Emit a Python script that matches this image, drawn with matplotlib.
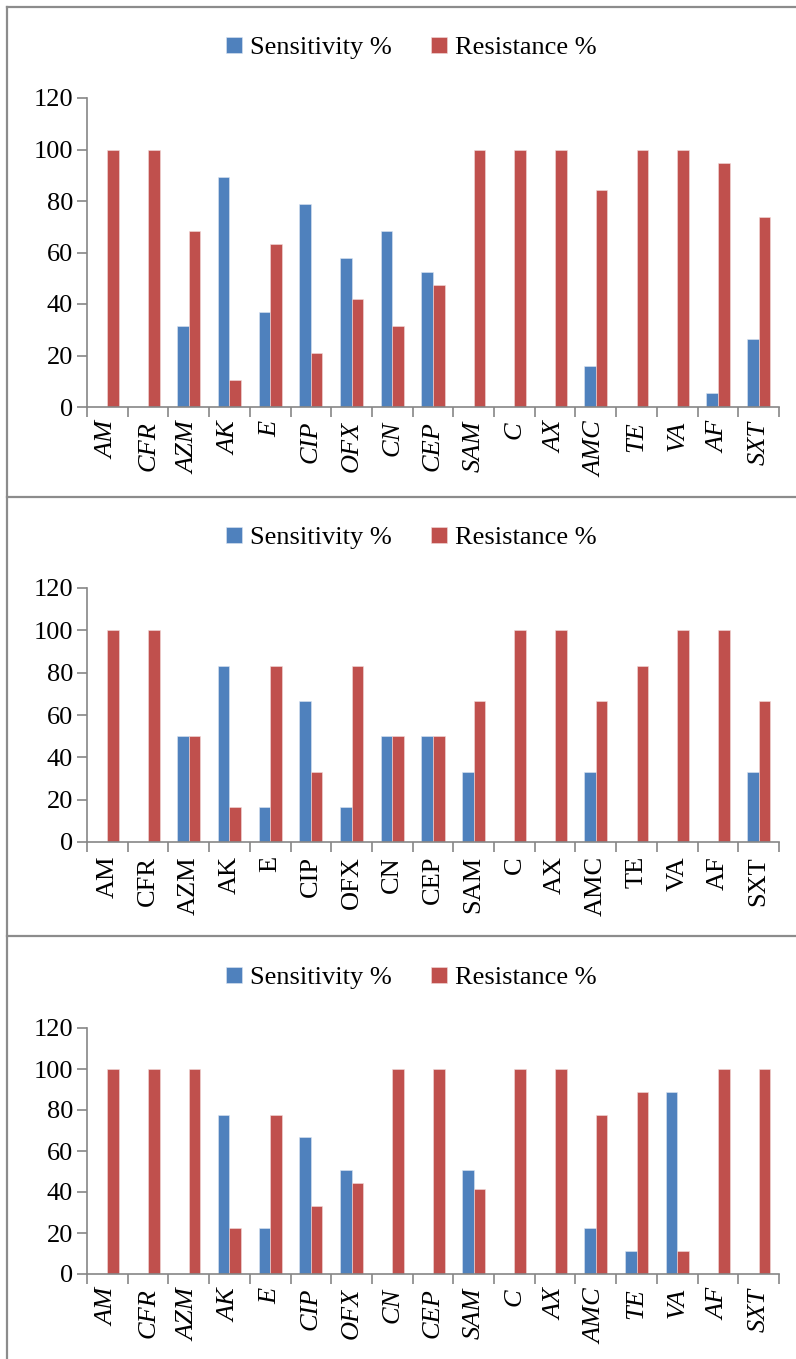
import numpy as np
import matplotlib.pyplot as plt
from matplotlib.lines import Line2D

# === données ===
antibiotiques = ['AM', 'CFR', 'AZM', 'AK', 'E', 'CIP', 'OFX', 'CN', 'CEP',
                 'SAM', 'C', 'AX', 'AMC', 'TE', 'VA', 'AF', 'SXT']

sens_1 = [0, 0, 31.6, 89.5, 36.8, 78.9, 57.9, 68.4, 52.6, 0, 0, 0, 15.8, 0, 0, 5.3, 26.3]
res_1 = [100, 100, 68.4, 10.5, 63.2, 21.1, 42.1, 31.6, 47.4, 100, 100, 100, 84.2, 100, 100, 94.7, 73.7]

sens_2 = [0, 0, 50, 83.3, 16.7, 66.7, 16.7, 50, 50, 33.3, 0, 0, 33.3, 0, 0, 0, 33.3]
res_2 = [100, 100, 50, 16.7, 83.3, 33.3, 83.3, 50, 50, 66.7, 100, 100, 66.7, 83.3, 100, 100, 66.7]

sens_3 = [0, 0, 0, 77.8, 22.2, 66.7, 50.5, 0, 0, 50.5, 0, 0, 22.2, 11.1, 88.9, 0, 0]
res_3 = [100, 100, 100, 22.2, 77.8, 33.3, 44.4, 100, 100, 41.6, 100, 100, 77.8, 88.9, 11.1, 100, 100]

panneaux = [(sens_1, res_1, 'italic'), (sens_2, res_2, 'normal'), (sens_3, res_3, 'italic')]

# === mise en page (pixels) ===
W, H = 796, 1359
BLEU = '#4F81BD'
ROUGE = '#C0504D'
GRIS = '#868686'

plt.rcParams['font.family'] = ['Liberation Serif', 'DejaVu Serif']

fig = plt.figure(figsize=(W / 100, H / 100), dpi=100)

# y du zéro, y de 120, y de la légende
positions = [(407, 98, 46), (842, 588, 536), (1274, 1028, 976)]
x_gauche, x_droite = 87, 779

x = np.arange(len(antibiotiques))
w = 0.285

for (sens, res, style), (y0, y1, yl) in zip(panneaux, positions):
    ax = fig.add_axes([x_gauche / W, 1 - y0 / H, (x_droite - x_gauche) / W, (y0 - y1) / H])
    ax.bar(x - w / 2, sens, w, color=BLEU, edgecolor='#dce6f2', linewidth=0.4, label='Sensitivity %')
    ax.bar(x + w / 2, res, w, color=ROUGE, edgecolor='#f2dcdb', linewidth=0.4, label='Resistance %')
    ax.set_xlim(-0.5, len(antibiotiques) - 0.5)
    ax.set_ylim(0, 120)
    ax.set_yticks(range(0, 121, 20))
    ax.tick_params(axis='y', labelsize=19, length=7, width=1.2, color=GRIS, pad=3)
    # étiquettes au centre, traits entre les catégories
    ax.set_xticks(x)
    ax.set_xticklabels(antibiotiques, rotation=90, fontsize=19, style=style)
    ax.set_xticks(np.arange(-0.5, len(antibiotiques)), minor=True)
    ax.tick_params(axis='x', which='major', length=0, pad=10)
    ax.tick_params(axis='x', which='minor', length=7, width=1.2, color=GRIS)
    for s in ['top', 'right']:
        ax.spines[s].set_visible(False)
    for s in ['left', 'bottom']:
        ax.spines[s].set_color(GRIS)
        ax.spines[s].set_linewidth(1.2)
    ax.legend(loc='center', bbox_to_anchor=(411 / W, 1 - (yl + 2) / H), bbox_transform=fig.transFigure,
              ncol=2, frameon=False, fontsize=19, handlelength=0.6, handleheight=0.6,
              handletextpad=0.3, columnspacing=1.5)

# === cadres ===
def trait(x0, y0, x1, y1):
    fig.add_artist(Line2D([x0 / W, x1 / W], [1 - y0 / H, 1 - y1 / H], color='#8c8c8c', linewidth=1.6))

trait(7, 7, W, 7)
trait(7, 497, W, 497)
trait(7, 936, W, 936)
trait(7, 7, 7, H)

fig.savefig('out.png', dpi=100)
